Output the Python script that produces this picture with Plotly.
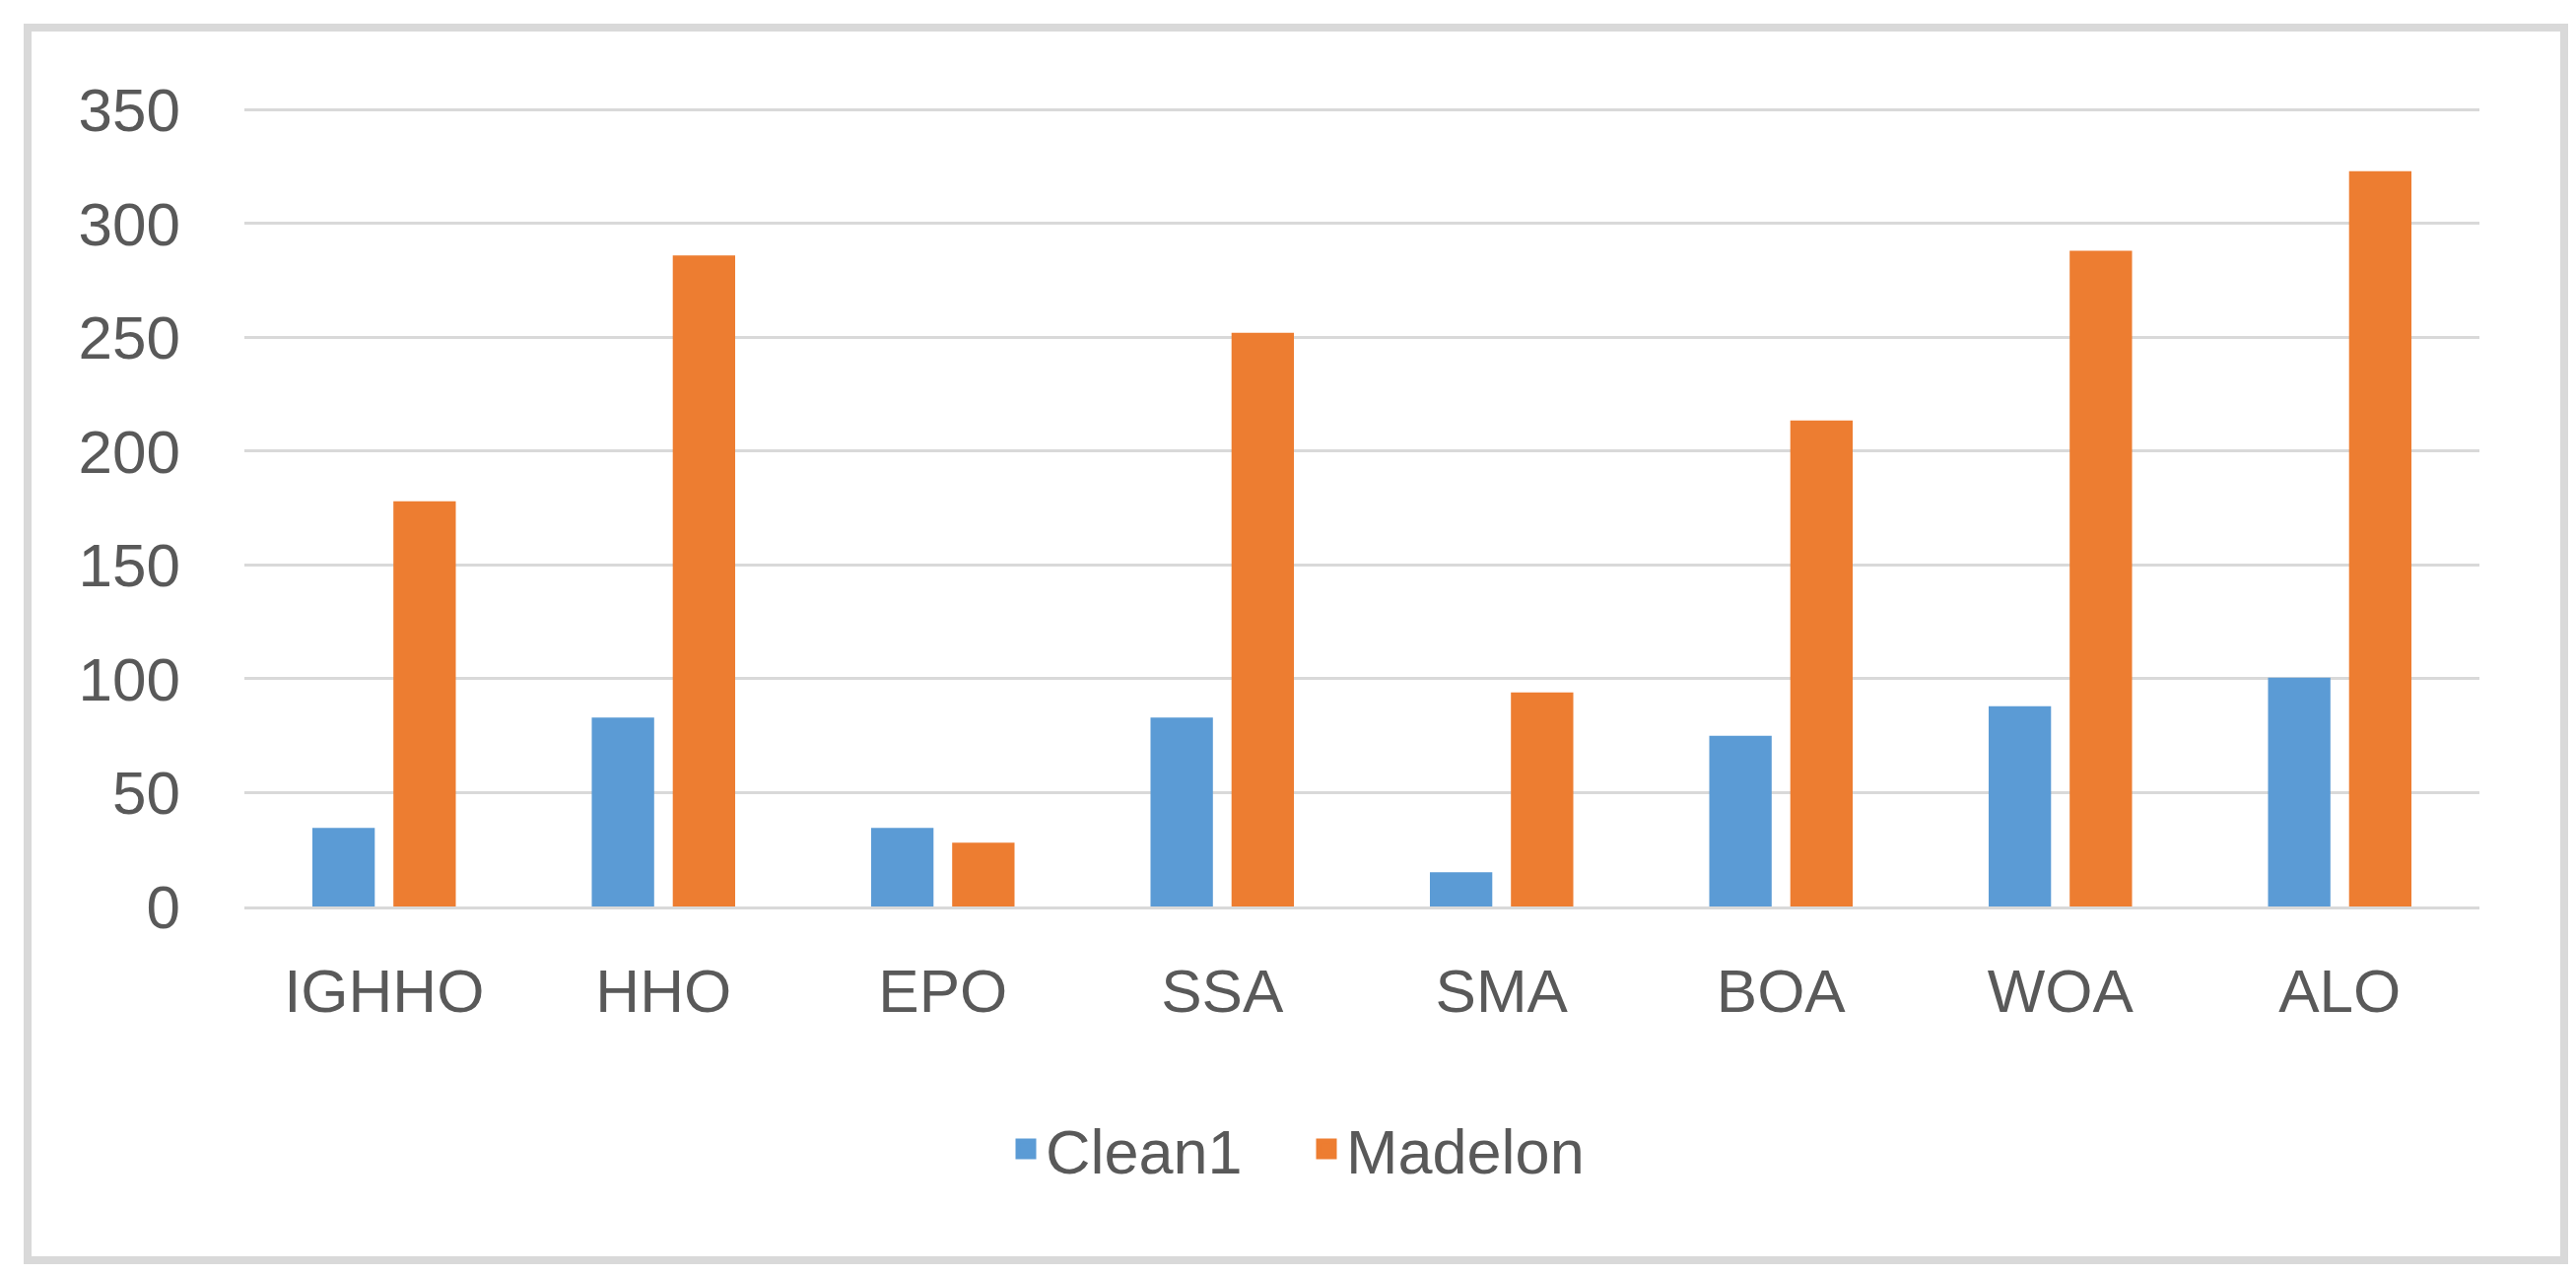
import plotly.graph_objects as go

# ---- data ----
categories = ["IGHHO", "HHO", "EPO", "SSA", "SMA", "BOA", "WOA", "ALO"]
clean1 = [34.5, 83, 34.5, 83, 15, 75, 88, 100.5]
madelon = [178, 286, 28, 252, 94, 213.5, 288, 323]
series_names = ["Clean1", "Madelon"]
y_ticks = [0, 50, 100, 150, 200, 250, 300, 350]

# ---- style ----
BLUE = "#5B9BD5"
ORANGE = "#ED7D31"
TEXT = "#595959"
GRID = "#D9D9D9"
FONT = "Liberation Sans"

W, H = 2614, 1293
ML, MR, MT, MB = 240, 106, 101, 381
PW, PH = W - ML - MR, H - MT - MB


def px_to_paper_x(px):
    return (px - ML) / PW


def px_to_paper_y(py):
    return (H - MB - py) / PH


fig = go.Figure()
fig.add_trace(go.Bar(x=categories, y=clean1, name=series_names[0],
                     marker=dict(color=BLUE, line=dict(width=0)), showlegend=False))
fig.add_trace(go.Bar(x=categories, y=madelon, name=series_names[1],
                     marker=dict(color=ORANGE, line=dict(width=0)), showlegend=False))

# legend entries (square swatches)
for name, col in zip(series_names, [BLUE, ORANGE]):
    fig.add_trace(go.Scatter(x=[None], y=[None], mode="markers", name=name,
                             marker=dict(symbol="square", size=16, color=col,
                                         line=dict(color=col, width=5))))

# outer chart border
fig.add_shape(type="rect", xref="paper", yref="paper",
              x0=px_to_paper_x(20), x1=px_to_paper_x(2594),
              y0=px_to_paper_y(1271), y1=px_to_paper_y(20),
              line=dict(color=GRID, width=8), layer="below")

fig.update_layout(
    width=W, height=H,
    margin=dict(l=ML, r=MR, t=MT, b=MB, autoexpand=False),
    paper_bgcolor="white", plot_bgcolor="white",
    barmode="group", bargap=0.42, bargroupgap=0.23,
    font=dict(family=FONT, color=TEXT, size=60),
    legend=dict(orientation="h", xanchor="center", yanchor="middle",
                x=px_to_paper_x(1318), y=px_to_paper_y(1158),
                font=dict(size=63, color=TEXT), itemwidth=30,
                entrywidth=260, entrywidthmode="pixels",
                bgcolor="rgba(0,0,0,0)"),
    showlegend=True,
)
fig.update_xaxes(showgrid=False, showline=True, linecolor=GRID, linewidth=3,
                 ticks="", tickfont=dict(size=62, color=TEXT),
                 ticklabelstandoff=30, zeroline=False)
fig.update_yaxes(range=[0, 351], tickvals=y_ticks, showgrid=True, gridcolor=GRID,
                 gridwidth=3, zeroline=False, showline=False, ticks="",
                 tickfont=dict(size=62, color=TEXT), ticklabelstandoff=64)

fig.write_html("out.html")
